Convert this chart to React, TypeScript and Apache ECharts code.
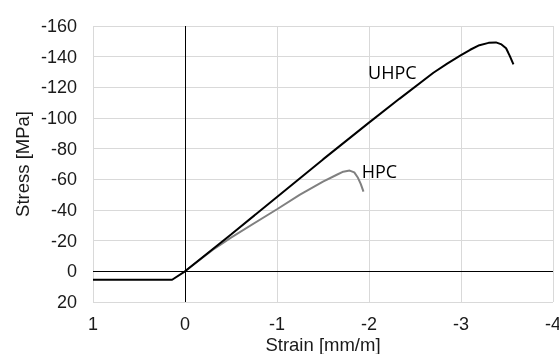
import React, { useEffect, useRef } from "react";
import * as echarts from "echarts";

const uhpcStrain = [1, 0.14, 0, -0.5, -1, -1.5, -2, -2.33, -2.7, -2.85, -3, -3.1, -3.2, -3.3, -3.38, -3.44, -3.49, -3.53, -3.57];
const uhpcStress = [5.5, 5.5, 0, -24, -48.5, -73, -97, -112.5, -129.5, -135.5, -141, -144.5, -147.5, -149, -149.3, -148, -145.5, -140.5, -135];
const hpcStrain = [0, -0.3, -0.5, -1, -1.25, -1.5, -1.65, -1.72, -1.79, -1.84, -1.88, -1.91, -1.94];
const hpcStress = [0, -14, -22, -40.5, -50, -58.5, -63, -65, -65.7, -64.5, -61, -57, -52];
const xTicks = { min: -4, max: 1, interval: 1 };
const yTicks = { min: -160, max: 20, interval: 20 };
const labels = [
  { name: "UHPC", coord: [-1.99, -130.3] },
  { name: "HPC", coord: [-1.92, -65.5] },
];

export default function App() {
  const ref = useRef<HTMLDivElement>(null);
  useEffect(() => {
    const chart = echarts.init(ref.current!, null, { renderer: "svg" });
    const tickText = { color: "#1a1a1a", fontFamily: "Liberation Sans", fontSize: 18 };
    const nameText = { color: "#1a1a1a", fontFamily: "Liberation Sans", fontSize: 18.5 };
    const labelStyle = {
      show: true,
      position: "right",
      distance: 0,
      formatter: "{b}",
      color: "#000",
      fontFamily: "Open Sans",
      fontSize: 18,
    };
    chart.setOption({
      animation: false,
      grid: { left: 93, right: 6, top: 26, bottom: 52, containLabel: false, outerBoundsMode: "none" },
      xAxis: {
        type: "value",
        inverse: true,
        min: xTicks.min,
        max: xTicks.max,
        interval: xTicks.interval,
        name: "Strain [mm/m]",
        nameLocation: "middle",
        nameGap: 33,
        nameMoveOverlap: false,
        nameTextStyle: nameText,
        axisLine: { show: false },
        axisTick: { show: false },
        axisLabel: { ...tickText, margin: 13 },
        splitLine: { show: true, lineStyle: { color: "#d9d9d9", width: 1 } },
      },
      yAxis: {
        type: "value",
        inverse: true,
        min: yTicks.min,
        max: yTicks.max,
        interval: yTicks.interval,
        name: "Stress [MPa]",
        nameLocation: "middle",
        nameGap: 61,
        nameMoveOverlap: false,
        nameTextStyle: nameText,
        axisLine: { show: false },
        axisTick: { show: false },
        axisLabel: { ...tickText, margin: 16 },
        splitLine: { show: true, lineStyle: { color: "#d9d9d9", width: 1 } },
      },
      series: [
        {
          type: "line",
          name: "zero",
          data: [],
          silent: true,
          markLine: {
            silent: true,
            symbol: "none",
            label: { show: false },
            lineStyle: { color: "#000", width: 1, type: "solid" },
            data: [{ xAxis: 0 }, { yAxis: 0 }],
          },
        },
        {
          type: "line",
          name: "HPC",
          data: hpcStrain.map((s, i) => [s, hpcStress[i]]),
          showSymbol: false,
          lineStyle: { color: "#808080", width: 2 },
          markPoint: {
            symbolSize: 0,
            label: labelStyle,
            data: [{ name: labels[1].name, coord: labels[1].coord }],
          },
        },
        {
          type: "line",
          name: "UHPC",
          data: uhpcStrain.map((s, i) => [s, uhpcStress[i]]),
          showSymbol: false,
          lineStyle: { color: "#000", width: 2 },
          markPoint: {
            symbolSize: 0,
            label: labelStyle,
            data: [{ name: labels[0].name, coord: labels[0].coord }],
          },
        },
      ],
    });
    return () => chart.dispose();
  }, []);
  return (
    <div
      ref={ref}
      style={{ position: "fixed", left: 0, top: 0, width: 559, height: 354 }}
    />
  );
}
